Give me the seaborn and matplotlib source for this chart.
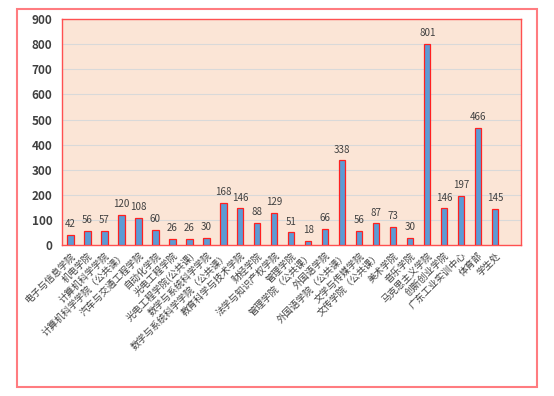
import pandas as pd
import matplotlib
matplotlib.use("Agg")
import matplotlib.pyplot as plt
import seaborn as sns
from matplotlib.patches import Rectangle

# 各学院数量
depts = [
    "电子与信息学院", "机电学院", "计算机科学学院", "计算机科学学院（公共课）",
    "汽车与交通工程学院", "自动化学院", "光电工程学院", "光电工程学院(公共课)",
    "数学与系统科学学院", "数学与系统科学学院（公共课）", "教育科学与技术学院",
    "财经学院", "法学与知识产权学院", "管理学院", "管理学院（公共课）",
    "外国语学院", "外国语学院（公共课）", "文学与传媒学院", "文传学院（公共课）",
    "美术学院", "音乐学院", "马克思主义学院", "创新创业学院", "广东工业实训中心",
    "体育部", "学生处",
]
counts = [42, 56, 57, 120, 108, 60, 26, 26, 30, 168, 146, 88, 129, 51, 18,
          66, 338, 56, 87, 73, 30, 801, 146, 197, 466, 145]
yticks = list(range(0, 1000, 100))

df = pd.DataFrame({"dept": depts, "count": counts})

sns.set_style("white")
plt.rcParams['font.family'] = ['Noto Sans CJK SC', 'DejaVu Sans']

fig = plt.figure(figsize=(5.54, 3.96), dpi=100)
ax = fig.add_axes([0.112, 0.381, 0.828, 0.571])

# 外框
fig.patches.append(Rectangle((17 / 554, 9 / 396), 520 / 554, 378 / 396,
                             transform=fig.transFigure, fill=False,
                             edgecolor='#FF7C80', linewidth=1.5))

ax.set_facecolor('#FBE5D6')
sns.barplot(data=df, x='dept', y='count', color='#5B9BD5', width=0.36,
            edgecolor='#FF2020', linewidth=0.9, saturation=1, ax=ax, zorder=3)

ax.bar_label(ax.containers[0], fontsize=7, color='#404040', padding=4)

ax.set_ylim(0, 900)
ax.set_xlim(-0.5, 26.5)
ax.set_yticks(yticks)
ax.grid(axis='y', color='#D9D9D9', linewidth=0.8, zorder=0)
ax.set_axisbelow(True)
for s in ax.spines.values():
    s.set_color('#FF5050')
    s.set_linewidth(1.0)

ax.set_xlabel('')
ax.set_ylabel('')
ax.tick_params(axis='y', length=0, labelsize=8.5, labelcolor='#404040', pad=7)
for t in ax.get_yticklabels():
    t.set_fontweight('bold')
ax.tick_params(axis='x', length=0, pad=4)
ax.set_xticks(range(len(depts)))
ax.set_xticklabels(depts, rotation=45, ha='right', rotation_mode='anchor',
                   fontsize=6.8, color='#404040')

fig.savefig('out.png', dpi=100)
